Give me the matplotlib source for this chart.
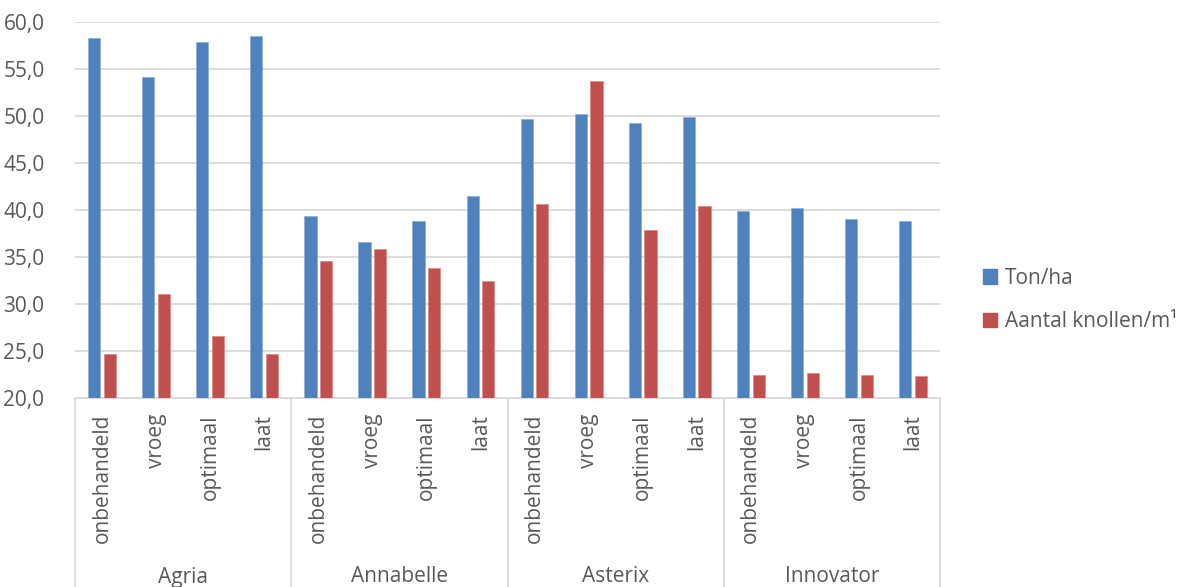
import matplotlib
matplotlib.use("Agg")
import matplotlib.pyplot as plt
import matplotlib.transforms as mtransforms
from matplotlib.lines import Line2D
from matplotlib.patches import Patch
import numpy as np

varieties = ["Agria", "Annabelle", "Asterix", "Innovator"]
treatments = ["onbehandeld", "vroeg", "optimaal", "laat"]

ton_per_ha = [58.3, 54.1, 57.85, 58.55,
              39.35, 36.55, 38.85, 41.45,
              49.65, 50.2, 49.3, 49.85,
              39.9, 40.25, 39.05, 38.85]
knollen_per_m = [24.65, 31.05, 26.6, 24.65,
                 34.55, 35.85, 33.8, 32.45,
                 40.6, 53.7, 37.85, 40.4,
                 22.4, 22.65, 22.5, 22.35]

series_names = ["Ton/ha", "Aantal knollen/m¹"]
series_colors = ["#4F81BD", "#C0504D"]
y_ticks = [20, 25, 30, 35, 40, 45, 50, 55, 60]

plt.rcParams["font.family"] = ["Open Sans", "DejaVu Sans"]
text_color = "#595959"
grid_color = "#D9D9D9"
fs = 15

W, H = 1183, 587
fig = plt.figure(figsize=(W / 100, H / 100), dpi=100)
left, right, top, bottom = 75, 940, 22, 398
ax = fig.add_axes([left / W, (H - bottom) / H, (right - left) / W, (bottom - top) / H])

n = len(ton_per_ha)
x = np.arange(n)
bw = 0.225
off = 0.145
ax.bar(x - off, [v - 20 for v in ton_per_ha], bw, bottom=20,
       color=series_colors[0], edgecolor="#8FB0D8", linewidth=0.6, zorder=3)
ax.bar(x + off, [v - 20 for v in knollen_per_m], bw, bottom=20,
       color=series_colors[1], edgecolor="#D88E8C", linewidth=0.6, zorder=3)

ax.set_xlim(-0.5, n - 0.5)
ax.set_ylim(20, 60)
ax.set_yticks(y_ticks)
ax.set_yticklabels([f"{t:.1f}".replace(".", ",") for t in y_ticks],
                   fontsize=fs, color=text_color)
ax.tick_params(axis="y", length=0, pad=22)
ax.set_xticks([])
for t in y_ticks:
    ax.axhline(t, color=grid_color, linewidth=1.3, zorder=1)
for s in ["left", "right", "top"]:
    ax.spines[s].set_visible(False)
ax.spines["bottom"].set_color(grid_color)
ax.spines["bottom"].set_linewidth(1.3)

# Two-level category axis below the plot
trans = mtransforms.blended_transform_factory(ax.transData, fig.transFigure)
y_tick_top = 1 - 414 / H
for i in range(n):
    fig.text(0, 0, treatments[i % 4], rotation=90, ha="center", va="top",
             fontsize=fs, color=text_color, transform=trans,
             position=(i, y_tick_top))
for g, name in enumerate(varieties):
    fig.text(0, 0, name, ha="center", va="center", fontsize=fs, color=text_color,
             transform=trans, position=(g * 4 + 1.5, 1 - 577 / H))
for b in range(len(varieties) + 1):
    xb = b * 4 - 0.5
    fig.add_artist(Line2D([xb, xb], [1 - bottom / H, 0], transform=trans,
                          color=grid_color, linewidth=1.3))

handles = [Patch(facecolor=c, edgecolor=c) for c in series_colors]
leg = fig.legend(handles, series_names, loc="center left",
                 bbox_to_anchor=(964 / W, 1 - 300 / H), frameon=False,
                 fontsize=fs, handlelength=0.7, handleheight=0.7,
                 handletextpad=0.35, labelspacing=1.1, labelcolor=text_color)

fig.savefig("out.png", dpi=100)
